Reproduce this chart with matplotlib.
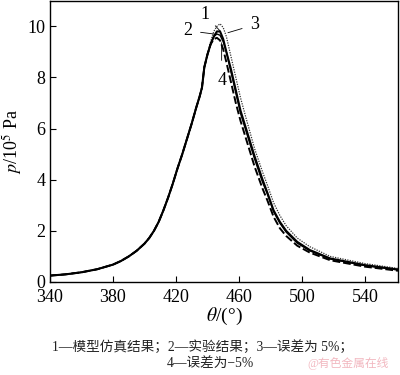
import matplotlib
matplotlib.use('Agg')
import matplotlib.pyplot as plt

plt.rcParams['font.family'] = ['Liberation Serif', 'Noto Sans CJK SC', 'DejaVu Sans']
plt.rcParams['mathtext.fontset'] = 'stix'

# rising branch, shared by all four curves
rise_theta = [340, 350, 360, 370, 380, 385, 390, 395, 400, 403, 406, 409, 412, 415,
              418, 421, 424, 427, 430, 433, 435, 436.5, 438]
rise_p = [0.25, 0.3, 0.38, 0.5, 0.68, 0.82, 1.0, 1.22, 1.5, 1.72, 2.0, 2.35, 2.8, 3.3,
          3.85, 4.45, 5.0, 5.6, 6.2, 6.85, 7.25, 7.6, 8.4]

# peak and falling branch
fall_theta = [440, 442, 444, 446, 448, 450, 452, 455, 458, 461, 465, 470, 475, 478,
              482, 486, 490, 497, 505, 518, 540, 561]
p_model = [8.9, 9.3, 9.6, 9.8, 9.8, 9.5, 9.0, 8.3, 7.5, 6.7, 5.9, 4.9, 4.0, 3.5,
           2.8, 2.35, 2.0, 1.57, 1.25, 0.92, 0.66, 0.49]
p_exp = [8.9, 9.3, 9.6, 9.7, 9.65, 9.4, 9.0, 8.2, 7.4, 6.6, 5.8, 4.8, 3.9, 3.45,
         2.75, 2.3, 1.95, 1.52, 1.22, 0.9, 0.64, 0.47]
p_plus5 = [8.9, 9.4, 9.8, 10.0, 10.1, 9.95, 9.6, 8.8, 8.0, 7.2, 6.3, 5.2, 4.3, 3.8,
           3.1, 2.6, 2.2, 1.72, 1.38, 1.0, 0.72, 0.53]
p_minus5 = [8.9, 9.3, 9.5, 9.55, 9.45, 9.1, 8.6, 7.8, 7.0, 6.3, 5.5, 4.5, 3.65, 3.2,
            2.55, 2.1, 1.8, 1.42, 1.15, 0.85, 0.6, 0.44]

x_ticks = [340, 380, 420, 460, 500, 540]
y_ticks = [0, 2, 4, 6, 8, 10]

caption1 = '1—模型仿真结果；2—实验结果；3—误差为 5%；'
caption2 = '4—误差为−5%'

fig = plt.figure(figsize=(4.0, 3.75), dpi=100)
ax = fig.add_axes([0.125, 0.248, 0.87, 0.75])

theta = rise_theta + fall_theta
ax.plot(theta, rise_p + p_plus5, color='#333333', lw=0.9, ls=(0, (1, 1)))
ax.plot(theta, rise_p + p_minus5, color='black', lw=1.4, ls=(0, (4, 1.5)))
ax.plot(theta, rise_p + p_exp, color='black', lw=1.0)
ax.plot(theta, rise_p + p_model, color='black', lw=1.5)

ax.set_xlim(340, 561)
ax.set_ylim(0, 11)
ax.set_xticks(x_ticks)
ax.set_yticks(y_ticks)
ax.tick_params(direction='in', labelsize=13, length=4, width=0.8)
ax.tick_params(axis='x', pad=5)
for s in ax.spines.values():
    s.set_linewidth(1.0)

ax.set_xlabel(r'$\theta$/(°)', fontsize=14, labelpad=0)
ax.set_ylabel(r'$p$/10$^5$ Pa', fontsize=13, labelpad=2)

# curve labels
kw = dict(fontsize=13, ha='center', va='center')
ax.annotate('1', xy=(448, 9.82), xytext=(438.5, 10.45),
            arrowprops=dict(arrowstyle='-', lw=0.6, shrinkA=3, shrinkB=0), **kw)
ax.annotate('2', xy=(444, 9.7), xytext=(427.5, 9.83),
            arrowprops=dict(arrowstyle='-', lw=0.6, shrinkA=4, shrinkB=0), **kw)
ax.annotate('3', xy=(453, 9.75), xytext=(470, 10.06),
            arrowprops=dict(arrowstyle='-', lw=0.6, shrinkA=4, shrinkB=0), **kw)
ax.annotate('4', xy=(449, 9.36), xytext=(449, 7.9),
            arrowprops=dict(arrowstyle='-', lw=0.6, shrinkA=6, shrinkB=0), **kw)

fig.text(0.505, 0.075, caption1, fontsize=9.8, ha='center', va='center', color='#222222')
fig.text(0.525, 0.03, caption2, fontsize=9.8, ha='center', va='center', color='#222222')
fig.text(0.87, 0.03, '@有色金属在线', fontsize=8.5, ha='center', va='center', color='#f2b8c0')

fig.savefig('out.png', dpi=100)
